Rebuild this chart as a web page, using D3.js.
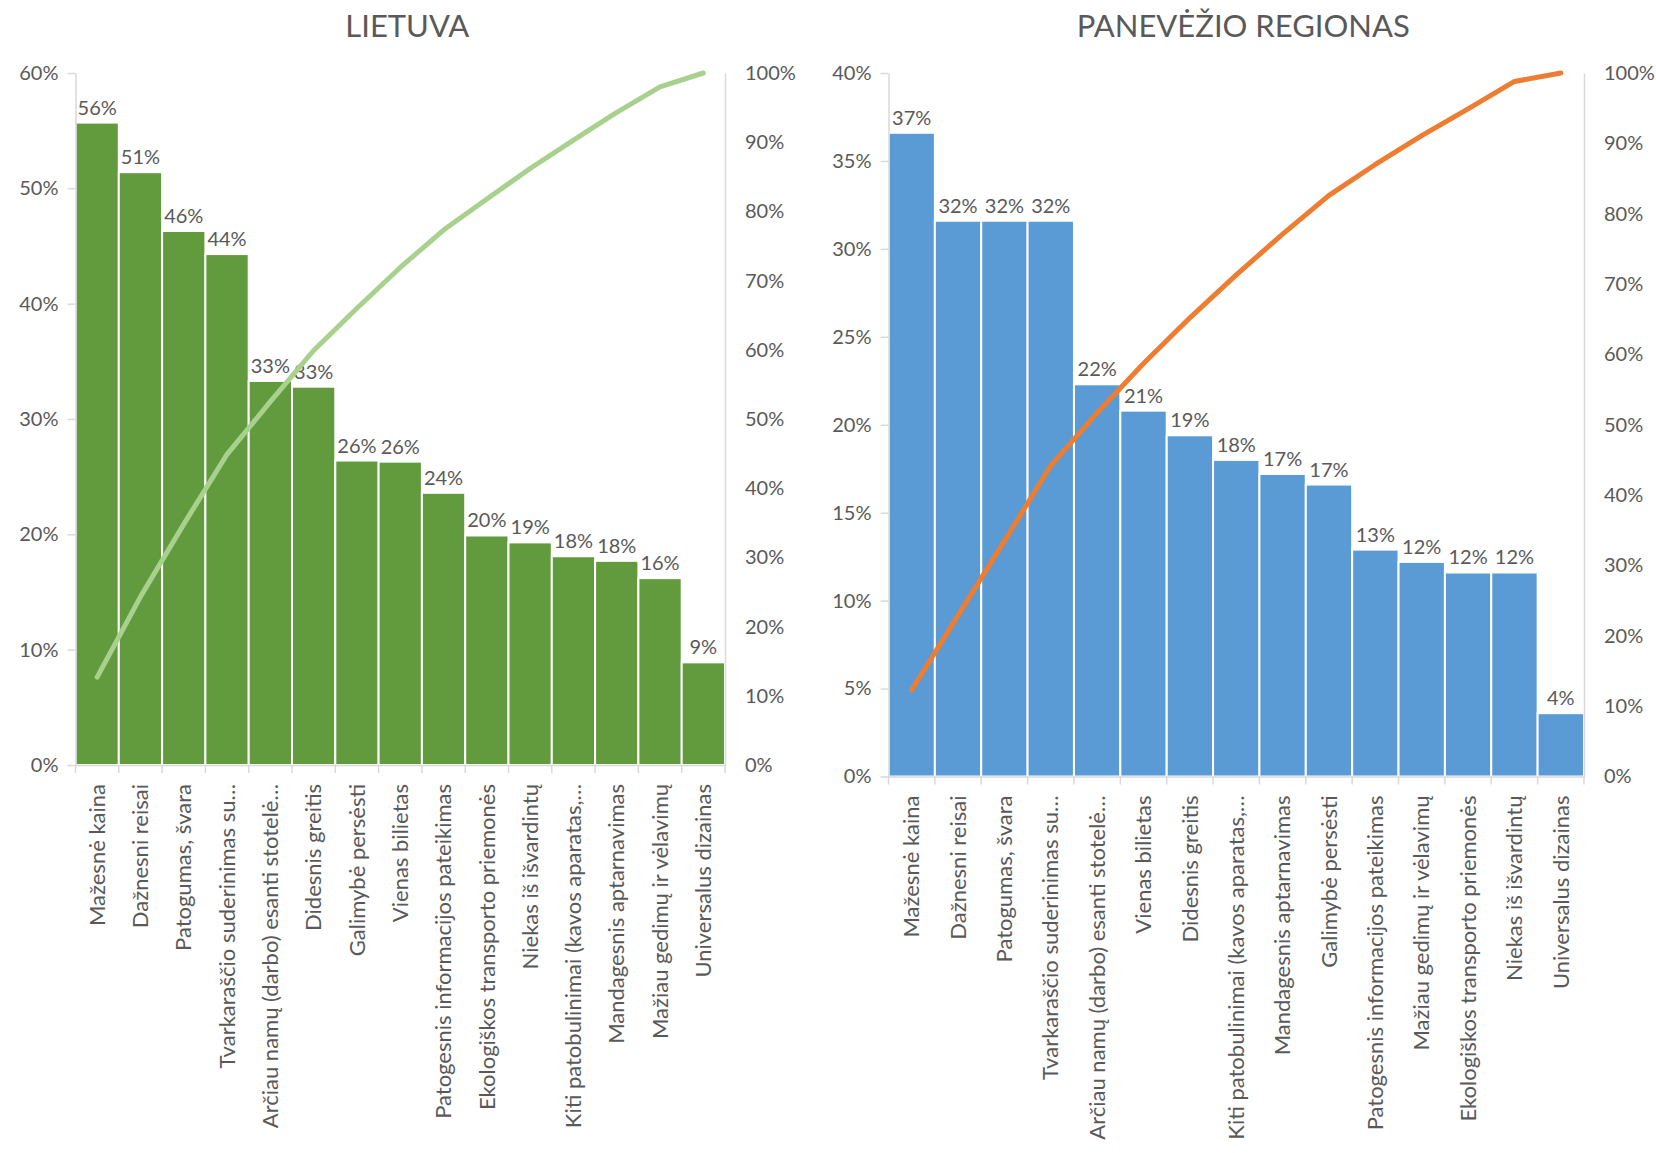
<!DOCTYPE html>
<html>
<head>
<meta charset="utf-8">
<script src="https://cdn.jsdelivr.net/npm/d3@7"></script>
<style>
  body { margin: 0; background: #fff; }
  text { font-family: Lato, "Open Sans", sans-serif; fill: #595959; }
</style>
</head>
<body>
<script>
//Width and height of the whole picture
var w = 1656;
var h = 1153;

//LIETUVA data
var catsLT = ["Mažesnė kaina", "Dažnesni reisai", "Patogumas, švara", "Tvarkaraščio suderinimas su…",
  "Arčiau namų (darbo) esanti stotelė…", "Didesnis greitis", "Galimybė persėsti", "Vienas bilietas",
  "Patogesnis informacijos pateikimas", "Ekologiškos transporto priemonės", "Niekas iš išvardintų",
  "Kiti patobulinimai (kavos aparatas,…", "Mandagesnis aptarnavimas", "Mažiau gedimų ir vėlavimų",
  "Universalus dizainas"];
var valsLT = [55.7, 51.4, 46.3, 44.3, 33.3, 32.8, 26.4, 26.3, 23.6, 19.9, 19.3, 18.1, 17.7, 16.2, 8.9];
var cumLT = [12.7, 24.3, 34.8, 44.9, 52.5, 59.9, 66.0, 71.9, 77.3, 81.8, 86.2, 90.3, 94.3, 98.0, 100];
var ticksLT = [0, 10, 20, 30, 40, 50, 60];

//PANEVĖŽIO REGIONAS data
var catsPR = ["Mažesnė kaina", "Dažnesni reisai", "Patogumas, švara", "Tvarkaraščio suderinimas su…",
  "Arčiau namų (darbo) esanti stotelė…", "Vienas bilietas", "Didesnis greitis",
  "Kiti patobulinimai (kavos aparatas,…", "Mandagesnis aptarnavimas", "Galimybė persėsti",
  "Patogesnis informacijos pateikimas", "Mažiau gedimų ir vėlavimų", "Ekologiškos transporto priemonės",
  "Niekas iš išvardintų", "Universalus dizainas"];
var valsPR = [36.6, 31.6, 31.6, 31.6, 22.3, 20.8, 19.4, 18.0, 17.2, 16.6, 12.9, 12.2, 11.6, 11.6, 3.6];
var cumPR = [12.3, 22.9, 33.5, 44.2, 51.7, 58.7, 65.2, 71.3, 77.1, 82.6, 87.0, 91.1, 94.9, 98.8, 100];
var ticksPR = [0, 5, 10, 15, 20, 25, 30, 35, 40];

//Cumulative (right) axis ticks, shared
var ticksCum = [0, 10, 20, 30, 40, 50, 60, 70, 80, 90, 100];

var pct = function(d) { return d3.format(".0%")(d / 100); };

//Create SVG element
var svg = d3.select("body")
  .append("svg")
  .attr("width", w)
  .attr("height", h);

function drawPanel(p) {
  var g = svg.append("g");

  var xScale = d3.scaleBand()
    .domain(p.cats)
    .range([p.left, p.right])
    .padding(0);

  var yScale = d3.scaleLinear()
    .domain([0, p.max])
    .range([p.bottom, p.top]);

  var yCum = d3.scaleLinear()
    .domain([0, 100])
    .range([p.bottom, p.top]);

  var bw = xScale.bandwidth();
  var data = p.cats.map(function(c, i) { return { cat: c, v: p.vals[i], cum: p.cum[i] }; });

  //Title
  g.append("text")
    .attr("x", (p.left + p.right) / 2 + 7)
    .attr("y", 37)
    .attr("text-anchor", "middle")
    .style("font-size", "31px")
    .text(p.title);

  //Bars
  g.selectAll("rect.bar")
    .data(data)
    .enter()
    .append("rect")
    .attr("class", "bar")
    .attr("x", function(d) { return xScale(d.cat); })
    .attr("y", function(d) { return yScale(d.v); })
    .attr("width", bw)
    .attr("height", function(d) { return p.bottom - yScale(d.v); })
    .attr("fill", p.barColor)
    .attr("stroke", "#fff")
    .attr("stroke-width", 2);

  //Bar labels
  g.selectAll("text.lbl")
    .data(data)
    .enter()
    .append("text")
    .attr("class", "lbl")
    .attr("x", function(d) { return xScale(d.cat) + bw / 2; })
    .attr("y", function(d) { return yScale(d.v) - 8; })
    .attr("text-anchor", "middle")
    .style("font-size", "20px")
    .text(function(d) { return pct(d.v); });

  //Left axis
  var yAxis = g.append("g")
    .attr("transform", "translate(" + p.left + ",0)")
    .call(d3.axisLeft(yScale).tickValues(p.ticks).tickFormat(pct).tickSize(8).tickSizeOuter(0).tickPadding(9));

  //Right axis (cumulative)
  var cAxis = g.append("g")
    .attr("transform", "translate(" + p.right + ",0)")
    .call(d3.axisRight(yCum).tickValues(ticksCum).tickFormat(pct).tickSize(0).tickSizeOuter(0).tickPadding(20));

  //Bottom axis with category labels
  var xAxis = g.append("g")
    .attr("transform", "translate(0," + p.bottom + ")")
    .call(d3.axisBottom(xScale).tickSize(0).tickSizeOuter(0));

  //Tick marks between categories
  var edges = p.cats.map(function(c) { return xScale(c); }).concat([p.right]);
  xAxis.selectAll("line.edge")
    .data(edges)
    .enter()
    .append("line")
    .attr("class", "edge")
    .attr("x1", function(d) { return d; })
    .attr("x2", function(d) { return d; })
    .attr("y1", 0)
    .attr("y2", 8)
    .attr("stroke", "#d9d9d9")
    .attr("stroke-width", 1.5);

  [yAxis, cAxis, xAxis].forEach(function(a) {
    a.selectAll(".domain, .tick line").attr("stroke", "#d9d9d9").attr("stroke-width", 1.5);
    a.selectAll(".tick text").attr("fill", "#595959").style("font-size", "20px")
      .style("font-family", "Lato, 'Open Sans', sans-serif");
  });

  xAxis.selectAll(".tick text")
    .attr("transform", "rotate(-90)")
    .attr("text-anchor", "end")
    .attr("x", -19)
    .attr("y", 0)
    .attr("dy", "0.35em")
    .style("font-size", "22px");

  //Cumulative line
  var line = d3.line()
    .x(function(d) { return xScale(d.cat) + bw / 2; })
    .y(function(d) { return yCum(d.cum); });

  g.append("path")
    .datum(data)
    .attr("d", line)
    .attr("fill", "none")
    .attr("stroke", p.lineColor)
    .attr("stroke-width", 5)
    .attr("stroke-linejoin", "round")
    .attr("stroke-linecap", "round");
}

drawPanel({
  title: "LIETUVA",
  cats: catsLT, vals: valsLT, cum: cumLT, ticks: ticksLT, max: 60,
  left: 75.5, right: 725, top: 73, bottom: 765,
  barColor: "#629b3e", lineColor: "#a9d18e"
});

drawPanel({
  title: "PANEVĖŽIO REGIONAS",
  cats: catsPR, vals: valsPR, cum: cumPR, ticks: ticksPR, max: 40,
  left: 888.5, right: 1584, top: 73, bottom: 776.5,
  barColor: "#5b9bd5", lineColor: "#ed7d31"
});
</script>
</body>
</html>
